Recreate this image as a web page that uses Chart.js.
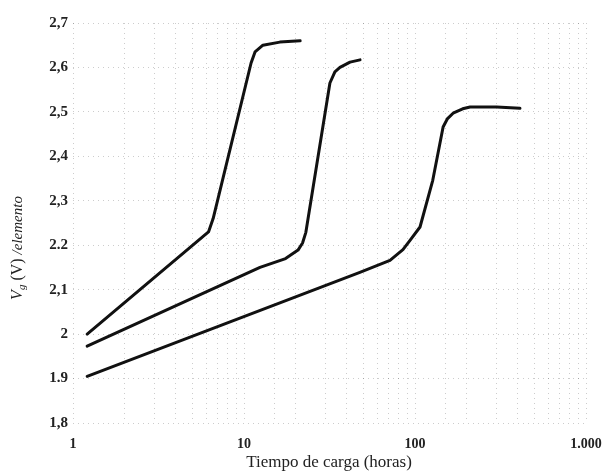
<!DOCTYPE html>
<html>
<head>
<meta charset="utf-8">
<script src="https://cdn.jsdelivr.net/npm/chart.js@4.4.1/dist/chart.umd.min.js"></script>
<style>
  html, body { margin: 0; padding: 0; background: #fff; }
  #wrap { width: 607px; height: 476px; }
</style>
</head>
<body>
<div id="wrap"><canvas id="cargaChart" width="607" height="476"></canvas></div>
<script>
// Tensión por elemento durante la carga, tres regímenes de corriente
const horas1 = [1.21, 6.2, 6.6, 11, 11.6, 12.9, 16.2, 21.3];
const tension1 = [2.0, 2.23, 2.26, 2.61, 2.635, 2.65, 2.657, 2.66];

const horas2 = [1.21, 12.4, 17.5, 20.7, 22, 23, 31.8, 34, 36.4, 41.7, 47.7];
const tension2 = [1.973, 2.15, 2.17, 2.189, 2.205, 2.229, 2.565, 2.59, 2.6, 2.612, 2.617];

const horas3 = [1.21, 47.6, 71.4, 85, 93.5, 107, 127, 146, 155, 167, 190, 210, 300, 411];
const tension3 = [1.905, 2.139, 2.166, 2.19, 2.211, 2.241, 2.346, 2.466, 2.485, 2.497, 2.507, 2.511, 2.511, 2.508];

const xTicks = [1, 10, 100, 1000];
const xTickLabels = ["1", "10", "100", "1.000"];
const yTicks = [1.8, 1.9, 2.0, 2.1, 2.2, 2.3, 2.4, 2.5, 2.6, 2.7];
const yTickLabels = ["1,8", "1.9", "2", "2,1", "2.2", "2,3", "2,4", "2,5", "2,6", "2,7"];

const serif = "'Liberation Serif', 'DejaVu Serif', serif";

function toPoints(xs, ys) {
  return xs.map((x, i) => ({ x: x, y: ys[i] }));
}

function curve(xs, ys) {
  return {
    data: toPoints(xs, ys),
    borderColor: "#111",
    borderWidth: 3,
    borderJoinStyle: "round",
    borderCapStyle: "round",
    pointRadius: 0,
    fill: false,
    tension: 0,
  };
}

// axis titles drawn by hand (subscript + italics in the y title)
const titlesPlugin = {
  id: "titles",
  afterDraw(chart) {
    const c = chart.ctx;
    c.save();
    c.fillStyle = "#222";
    c.textBaseline = "middle";

    c.textAlign = "center";
    c.font = "17px " + serif;
    c.fillText("Tiempo de carga (horas)", 329, 463);

    c.translate(18, 248);
    c.rotate(-Math.PI / 2);
    const parts = [
      { t: "V", f: "italic 16px " + serif, dy: 0 },
      { t: "g", f: "italic 11px " + serif, dy: 4 },
      { t: " (V) ", f: "16px " + serif, dy: 0 },
      { t: "/elemento", f: "italic 15px " + serif, dy: 0 },
    ];
    let total = 0;
    parts.forEach(p => { c.font = p.f; total += c.measureText(p.t).width; });
    let x = -total / 2;
    c.textAlign = "left";
    parts.forEach(p => {
      c.font = p.f;
      c.fillText(p.t, x, p.dy);
      x += c.measureText(p.t).width;
    });
    c.restore();
  },
};

const ctx = document.getElementById("cargaChart").getContext("2d");
new Chart(ctx, {
  type: "line",
  data: {
    datasets: [curve(horas1, tension1), curve(horas2, tension2), curve(horas3, tension3)],
  },
  options: {
    responsive: false,
    animation: false,
    layout: { padding: { top: 23, right: 21, left: 0, bottom: 0 } },
    plugins: { legend: { display: false }, tooltip: { enabled: false } },
    scales: {
      x: {
        type: "logarithmic",
        min: 1,
        max: 1000,
        border: { display: false, dash: [1, 4] },
        grid: { color: "rgba(0,0,0,0.2)", lineWidth: 1, tickLength: 0 },
        afterFit(s) {
          s.height = 53;
          s.paddingLeft = 0;
          s.paddingRight = 0;
        },
        afterBuildTicks(s) {
          s.ticks = s.ticks.filter(t => t.value >= 1 && t.value <= 1000);
        },
        ticks: {
          autoSkip: false,
          maxRotation: 0,
          padding: 13,
          color: "#222",
          font: { family: serif, size: 14, weight: "bold" },
          callback(v) {
            const i = xTicks.indexOf(v);
            return i >= 0 ? xTickLabels[i] : "";
          },
        },
      },
      y: {
        min: 1.8,
        max: 2.7,
        border: { display: false, dash: [1, 4] },
        grid: { color: "rgba(0,0,0,0.2)", lineWidth: 1, tickLength: 0 },
        afterFit(s) {
          s.width = 73;
          s.paddingTop = 0;
          s.paddingBottom = 0;
        },
        afterBuildTicks(s) { s.ticks = yTicks.map(v => ({ value: v })); },
        ticks: {
          padding: 5,
          color: "#222",
          font: { family: serif, size: 15, weight: "bold" },
          callback(v) {
            const i = yTicks.findIndex(t => Math.abs(t - v) < 1e-6);
            return i >= 0 ? yTickLabels[i] : "";
          },
        },
      },
    },
  },
  plugins: [titlesPlugin],
});
</script>
</body>
</html>
